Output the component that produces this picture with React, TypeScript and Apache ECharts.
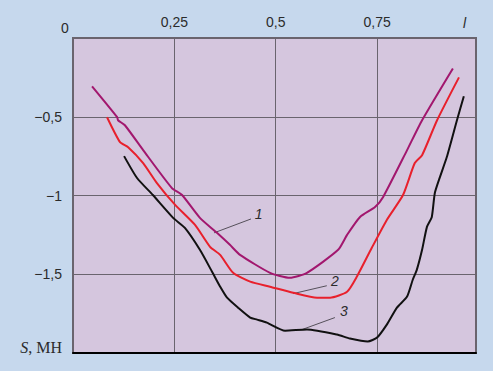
import React, { useEffect, useRef } from "react";
import * as echarts from "echarts";

const xTicks = [0.25, 0.5, 0.75];
const yTicks = [-0.5, -1, -1.5];
const xMax = 0.994;

const curve1: [number, number][] = [
  [0.047, -0.307], [0.109, -0.503], [0.111, -0.522], [0.128, -0.554], [0.173, -0.712],
  [0.244, -0.953], [0.269, -0.997], [0.313, -1.142], [0.355, -1.237], [0.387, -1.313],
  [0.412, -1.377], [0.486, -1.491], [0.535, -1.522], [0.577, -1.491], [0.654, -1.345],
  [0.676, -1.25], [0.708, -1.136], [0.745, -1.073], [0.765, -1.009], [0.824, -0.712],
  [0.861, -0.522], [0.937, -0.193],
];
const curve2: [number, number][] = [
  [0.084, -0.503], [0.116, -0.661], [0.136, -0.693], [0.173, -0.794], [0.207, -0.921],
  [0.252, -1.06], [0.301, -1.187], [0.338, -1.326], [0.363, -1.377], [0.395, -1.491],
  [0.437, -1.547], [0.486, -1.579], [0.543, -1.617], [0.602, -1.649], [0.634, -1.649],
  [0.676, -1.611], [0.7, -1.516], [0.737, -1.332], [0.774, -1.155], [0.814, -0.997],
  [0.843, -0.794], [0.861, -0.744], [0.898, -0.522], [0.952, -0.25],
];
const curve3: [number, number][] = [
  [0.126, -0.75], [0.158, -0.889], [0.197, -0.997], [0.247, -1.142], [0.276, -1.206],
  [0.313, -1.345], [0.343, -1.484], [0.363, -1.579], [0.38, -1.649], [0.407, -1.712],
  [0.437, -1.775], [0.454, -1.788], [0.478, -1.807], [0.523, -1.858], [0.577, -1.851],
  [0.651, -1.883], [0.683, -1.908], [0.727, -1.927], [0.75, -1.902], [0.774, -1.82],
  [0.799, -1.712], [0.824, -1.642], [0.838, -1.535], [0.848, -1.472], [0.861, -1.345],
  [0.873, -1.199], [0.885, -1.136], [0.893, -0.978], [0.922, -0.756], [0.947, -0.522],
  [0.964, -0.37],
];

const curveNames = ["1", "2", "3"];
const curveColors = ["#a2176e", "#e8202c", "#111111"];
// leader lines: [from, to, textPos]
const leaders: [number, number][][] = [
  [[0.348, -1.237], [0.439, -1.149], [0.458, -1.12]],
  [[0.543, -1.623], [0.626, -1.573], [0.646, -1.54]],
  [[0.565, -1.851], [0.646, -1.775], [0.668, -1.735]],
];

const fmt = (v: number) => {
  const s = String(Math.abs(v)).replace(".", ",");
  return v < 0 ? "\u2212" + s : s;
};

export default function App() {
  const ref = useRef<HTMLDivElement>(null);
  useEffect(() => {
    if (!ref.current) return;
    const chart = echarts.init(ref.current, null, { renderer: "svg" });
    const gray = "#6a646e";
    const textColor = "#2b2b2b";
    chart.setOption({
      animation: false,
      backgroundColor: "#c6d8ed",
      grid: {
        left: 73, top: 38, right: 17, bottom: 18,
        show: true, backgroundColor: "#d5c6de", borderColor: gray, borderWidth: 2,
      },
      xAxis: [
        {
          type: "value", position: "top", min: 0, max: xMax, interval: 0.25,
          axisLine: { show: true, lineStyle: { color: gray, width: 2 } },
          axisTick: { show: false },
          splitLine: { show: true, lineStyle: { color: gray, width: 1 } },
          axisLabel: {
            margin: 9, color: textColor, fontSize: 14, fontFamily: "Liberation Sans",
            showMinLabel: false, showMaxLabel: false,
            formatter: (v: number) => (xTicks.some((t) => Math.abs(t - v) < 1e-6) ? fmt(v) : ""),
          },
        },
        {
          type: "value", position: "bottom", min: 0, max: xMax,
          axisLine: { show: true, lineStyle: { color: "#000", width: 2 } },
          axisTick: { show: false }, axisLabel: { show: false }, splitLine: { show: false },
        },
      ],
      yAxis: {
        type: "value", min: -2, max: 0, interval: 0.5,
        axisLine: { show: true, lineStyle: { color: gray, width: 2 } },
        axisTick: { show: false },
        splitLine: { show: true, lineStyle: { color: gray, width: 1 } },
        axisLabel: {
          margin: 11, color: textColor, fontSize: 14, fontFamily: "Liberation Sans",
          formatter: (v: number) => {
            if (Math.abs(v + 2) < 1e-6) return "{i|S}{n|, МН}";
            if (yTicks.some((t) => Math.abs(t - v) < 1e-6)) return fmt(v);
            return "";
          },
          rich: {
            i: { fontFamily: "Liberation Serif", fontStyle: "italic", fontSize: 16, color: textColor, padding: [0, 0, 12, 0] },
            n: { fontFamily: "Liberation Serif", fontSize: 16, color: textColor, padding: [0, 0, 12, 0] },
          },
        },
      },
      series: [curve1, curve2, curve3].map((d, i) => ({
        type: "line", name: curveNames[i], data: d, showSymbol: false, smooth: 0.2,
        lineStyle: { color: curveColors[i], width: 2 }, xAxisIndex: 0,
      })),
    });
    const g: any[] = [
      { type: "text", left: 61, top: 21, style: { text: "0", fontSize: 14, fontFamily: "Liberation Sans", fill: textColor } },
      { type: "text", left: 463, top: 16, style: { text: "l", fontSize: 14, fontStyle: "italic", fontFamily: "Liberation Sans", fill: textColor } },
    ];
    leaders.forEach((l, i) => {
      const a = chart.convertToPixel({ xAxisIndex: 0, yAxisIndex: 0 }, l[0]) as number[];
      const b = chart.convertToPixel({ xAxisIndex: 0, yAxisIndex: 0 }, l[1]) as number[];
      const c = chart.convertToPixel({ xAxisIndex: 0, yAxisIndex: 0 }, l[2]) as number[];
      g.push({ type: "line", shape: { x1: a[0], y1: a[1], x2: b[0], y2: b[1] }, style: { stroke: "#55505a", lineWidth: 1 } });
      g.push({
        type: "text", x: c[0], y: c[1],
        style: { text: curveNames[i], fontSize: 14, fontStyle: "italic", fontFamily: "Liberation Sans", fill: textColor, align: "center", verticalAlign: "middle" },
      });
    });
    chart.setOption({ graphic: g });
    return () => chart.dispose();
  }, []);
  return <div ref={ref} style={{ position: "fixed", left: 0, top: 0, width: 493, height: 371 }} />;
}
